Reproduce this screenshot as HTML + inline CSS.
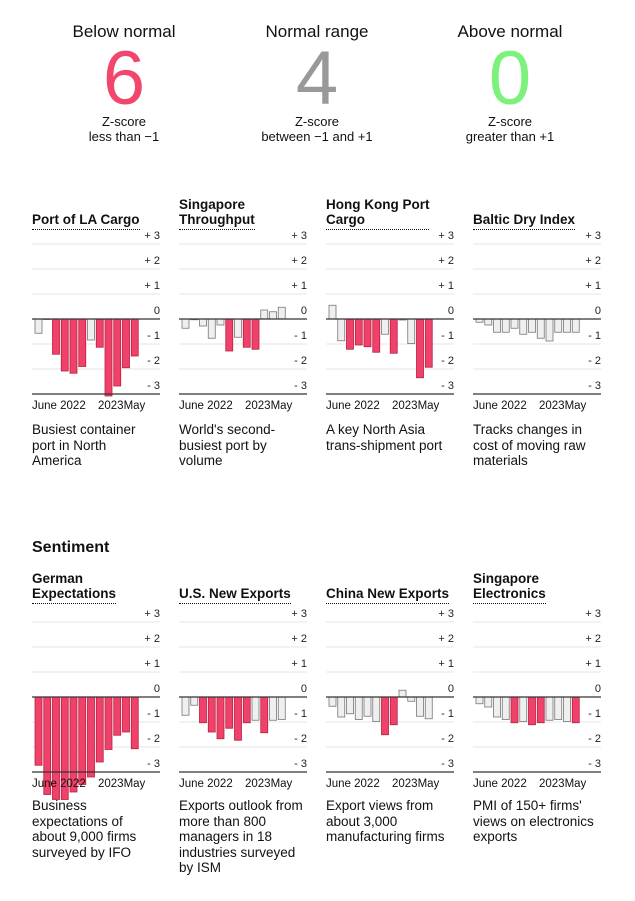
<!DOCTYPE html>
<html><head><meta charset="utf-8"><style>
body{margin:0;width:635px;height:901px;background:#fff;font-family:"Liberation Sans",sans-serif;color:#111;position:relative;overflow:hidden}
.stat{position:absolute;top:22px;width:180px;text-align:center}
.stat .lab{font-size:17px}
.stat .num{font-size:76px;line-height:70px;margin-top:2px}
.stat .sub{font-size:13px;line-height:15px;margin-top:0px}
.title{position:absolute;font-weight:bold;font-size:13.5px;line-height:15px;width:128px;display:flex;flex-direction:column;justify-content:flex-end}
.title span{border-bottom:1.5px dotted #111;padding-bottom:2px;align-self:flex-start}
.desc{position:absolute;font-size:13.5px;line-height:15.5px;width:140px}
h2{position:absolute;margin:0;left:32px;top:539px;font-size:16px;font-weight:bold}
svg{position:absolute;left:0;top:0}
</style></head><body>
<div class="stat" style="left:34px"><div class="lab">Below normal</div><div class="num" style="color:#f2476c">6</div><div class="sub">Z-score<br>less than −1</div></div>
<div class="stat" style="left:227px"><div class="lab">Normal range</div><div class="num" style="color:#999">4</div><div class="sub">Z-score<br>between −1 and +1</div></div>
<div class="stat" style="left:420px"><div class="lab">Above normal</div><div class="num" style="color:#7cf27a">0</div><div class="sub">Z-score<br>greater than +1</div></div>
<h2>Sentiment</h2>
<svg id="chart" width="635" height="901"></svg>
<script>
const titles=["Port of LA Cargo","Singapore Throughput","Hong Kong Port Cargo","Baltic Dry Index","German Expectations","U.S. New Exports","China New Exports","Singapore Electronics"];
const titleLines=[["Port of LA Cargo"],["Singapore","Throughput"],["Hong Kong Port","Cargo"],["Baltic Dry Index"],["German","Expectations"],["U.S. New Exports"],["China New Exports"],["Singapore","Electronics"]];
const descs=[["Busiest container","port in North","America"],["World's second-","busiest port by","volume"],["A key North Asia","trans-shipment port"],["Tracks changes in","cost of moving raw","materials"],["Business","expectations of","about 9,000 firms","surveyed by IFO"],["Exports outlook from","more than 800","managers in 18","industries surveyed","by ISM"],["Export views from","about 3,000","manufacturing firms"],["PMI of 150+ firms'","views on electronics","exports"]];
const laCargo=[-0.57,0,-1.41,-2.08,-2.17,-1.9,-0.84,-1.13,-3.08,-2.68,-1.95,-1.48];
const sgThroughput=[-0.37,-0.03,-0.28,-0.77,-0.24,-1.28,-0.73,-1.13,-1.21,0.36,0.29,0.47];
const hkCargo=[0.55,-0.87,-1.21,-1.04,-1.11,-1.33,-0.61,-1.37,-0.04,-0.98,-2.35,-1.93];
const baltic=[-0.13,-0.24,-0.53,-0.53,-0.37,-0.61,-0.53,-0.77,-0.88,-0.53,-0.53,-0.53];
const german=[-2.73,-3.9,-4.1,-4.1,-3.8,-3.5,-3.2,-2.6,-2.1,-1.53,-1.4,-2.07];
const usExports=[-0.73,-0.33,-1.03,-1.4,-1.67,-1.25,-1.73,-1.03,-0.93,-1.43,-0.93,-0.9];
const chinaExports=[-0.37,-0.8,-0.67,-0.9,-0.77,-0.98,-1.51,-1.11,0.27,-0.17,-0.77,-0.87];
const sgElectronics=[-0.27,-0.4,-0.8,-0.9,-1.03,-0.98,-1.11,-1.03,-0.93,-0.9,-0.98,-1.03];
const series=[laCargo,sgThroughput,hkCargo,baltic,german,usExports,chinaExports,sgElectronics];
const ticks=[3,2,1,0,-1,-2,-3];
const tickLabels=["+ 3","+ 2","+ 1","0","- 1","- 2","- 3"];
const xLabels=["June 2022","2023May"];
const NS="http://www.w3.org/2000/svg";
const svg=document.getElementById('chart');
function mk(t,a,p){const e=document.createElementNS(NS,t);for(const k in a)e.setAttribute(k,a[k]);(p||svg).appendChild(e);return e;}
const colX=[32,179,326,473], rowZero=[319,697], unit=25, plotW=128;
series.forEach((vals,i)=>{
  const col=i%4,row=Math.floor(i/4),x0=colX[col],z=rowZero[row];
  const y=v=>z-v*unit;
  const g=mk('g',{});
  
  
  ticks.forEach((t,k)=>{
    if(t!==0&&t!==-3){const l=mk('line',{x1:x0,x2:x0+plotW,y1:y(t),y2:y(t),stroke:'#e6e6e6','stroke-width':1},g);}
    const tx=mk('text',{x:x0+plotW,y:y(t)-5,'text-anchor':'end','font-size':11,fill:'#222'},g);
    tx.textContent=tickLabels[k];
    
    
  });
  const step=8.75;
  vals.forEach((v,j)=>{
    const bx=x0+3+j*step, top=Math.min(y(v),z), h=Math.abs(y(v)-z);
    const red=v<-1;
    const r=mk('rect',{x:bx,y:top,width:7,height:Math.max(h,0.5),fill:red?'#f0416a':'#efefef',stroke:red?'#b82040':'#777','stroke-width':0.8},g);
    
    
  });
  mk('line',{x1:x0,x2:x0+plotW,y1:z,y2:z,stroke:'#333','stroke-width':1.2},g);
  mk('line',{x1:x0,x2:x0+plotW,y1:y(-3),y2:y(-3),stroke:'#333','stroke-width':1.2},g);
  const l1=mk('text',{x:x0,y:y(-3)+15,'font-size':11.5,fill:'#111'},g);l1.textContent=xLabels[0];
  
  const l2=mk('text',{x:x0+66,y:y(-3)+15,'font-size':11.5,fill:'#111'},g);l2.textContent=xLabels[1];
  
  const td=document.createElement('div');td.className='title';
  td.style.left=x0+'px';td.style.top=(row?560:188)+'px';td.style.height=(row?44:42)+'px';
  td.innerHTML='<span>'+titleLines[i].join('<br>')+'</span>';
  
  document.body.appendChild(td);
  const dd=document.createElement('div');dd.className='desc';
  dd.style.left=x0+'px';dd.style.top=(row?798:422)+'px';
  dd.innerHTML=descs[i].join('<br>');
  
  document.body.appendChild(dd);
});
</script>
</body></html>
